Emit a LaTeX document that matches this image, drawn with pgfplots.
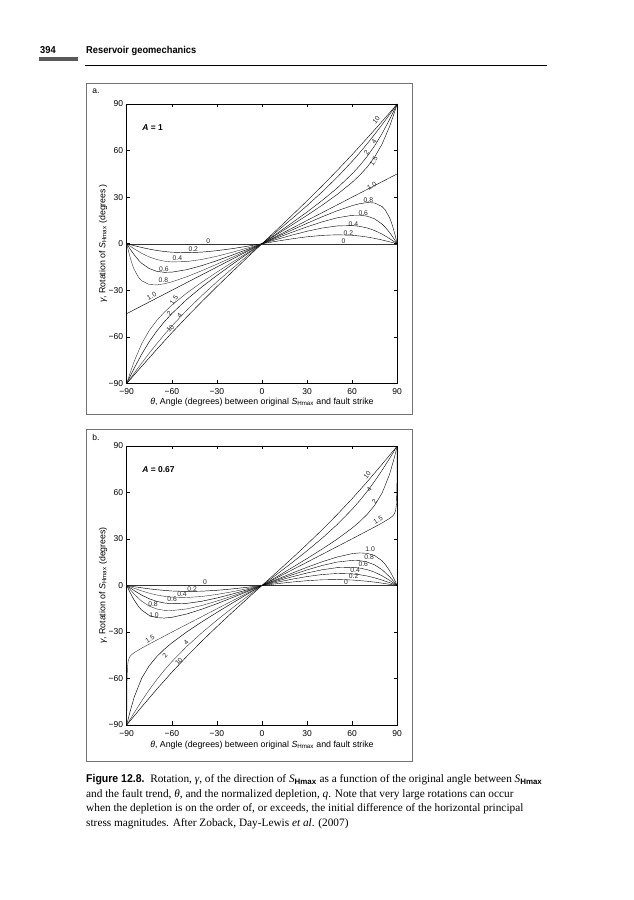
\documentclass[border=0pt]{standalone}
\usepackage{fontspec}
\setmainfont{Liberation Serif}
\setsansfont{Liberation Sans}
\newfontfamily\cond{Liberation Sans}[FakeStretch=0.93]
\usepackage{pgfplots}
\usepackage{pgfplotstable}
\pgfplotsset{compat=1.18}

\newcommand{\Sh}{\textit{S}\textsubscript{Hmax}}
\newcommand{\Sc}{\textit{S}\textsubscript{\sffamily\bfseries Hmax}}
\newcommand{\curve}[1]{%
  \addplot table[x=t,y=g]{#1};
  \addplot table[x expr=-\thisrow{t},y expr=-\thisrow{g}]{#1};}

% gamma(theta) for theta>=0, the theta<0 half is the mirror image
% panel a, A = 1
\pgfplotstableread[row sep=\\]{t g\\0 0\\10 1.65\\20 3.18\\30 4.47\\40 5.39\\50 5.77\\60 5.45\\65 4.99\\70 4.32\\75 3.45\\80 2.41\\85 1.24\\88 0.50\\90 0\\}\Aa
\pgfplotstableread[row sep=\\]{t g\\0 0\\10 2.84\\20 5.57\\30 8.05\\40 10.11\\50 11.47\\60 11.71\\65 11.21\\70 10.17\\75 8.51\\80 6.18\\85 3.27\\88 1.33\\90 0\\}\Ab
\pgfplotstableread[row sep=\\]{t g\\0 0\\10 3.74\\20 7.40\\30 10.89\\40 14.08\\50 16.70\\60 18.30\\65 18.40\\70 17.76\\75 15.99\\80 12.60\\82 10.67\\85 7.14\\87 4.42\\88 2.98\\89 1.50\\90 0\\}\Ac
\pgfplotstableread[row sep=\\]{t g\\0 0\\10 4.44\\20 8.84\\30 13.17\\40 17.34\\50 21.23\\60 24.55\\65 25.80\\70 26.51\\75 26.24\\80 23.89\\82 21.84\\85 16.60\\86 14.09\\87 11.12\\88 7.73\\89 3.96\\90 0\\}\Ad
\pgfplotstableread[row sep=\\]{t g\\0 0\\90 45\\}\Ae
\pgfplotstableread[row sep=\\]{t g\\0 0\\10 6.01\\20 12.08\\30 18.30\\40 24.77\\50 31.70\\60 39.55\\65 44.11\\70 49.39\\75 55.87\\80 64.30\\85 75.69\\88 84.05\\90 90\\}\Af
\pgfplotstableread[row sep=\\]{t g\\0 0\\10 6.68\\20 13.46\\30 20.45\\40 27.82\\50 35.83\\60 45.00\\65 50.28\\70 56.24\\75 63.10\\80 71.06\\85 80.15\\88 86.01\\90 90\\}\Ag
\pgfplotstableread[row sep=\\]{t g\\0 0\\10 8.02\\20 16.16\\30 24.55\\40 33.36\\50 42.78\\60 53.05\\65 58.57\\70 64.38\\75 70.46\\80 76.81\\85 83.35\\90 90\\}\Ah
\pgfplotstableread[row sep=\\]{t g\\0 0\\10 9.10\\20 18.29\\30 27.64\\40 37.24\\50 47.14\\60 57.39\\70 68.01\\80 78.92\\85 84.45\\90 90\\}\Ai
% panel b, A = 0.67
\pgfplotstableread[row sep=\\]{t g\\0 0\\10 1.17\\20 2.23\\30 3.10\\40 3.67\\50 3.85\\60 3.54\\70 2.74\\75 2.17\\80 1.50\\85 0.77\\90 0\\}\Ba
\pgfplotstableread[row sep=\\]{t g\\0 0\\10 2.09\\20 4.07\\30 5.78\\40 7.08\\50 7.74\\60 7.50\\65 6.96\\70 6.12\\75 4.95\\80 3.49\\85 1.81\\90 0\\}\Bb
\pgfplotstableread[row sep=\\]{t g\\0 0\\10 2.85\\20 5.59\\30 8.08\\40 10.15\\50 11.53\\60 11.77\\65 11.27\\70 10.24\\75 8.57\\80 6.23\\85 3.30\\88 1.34\\90 0\\}\Bc
\pgfplotstableread[row sep=\\]{t g\\0 0\\10 3.48\\20 6.86\\30 10.05\\40 12.89\\50 15.10\\60 16.19\\65 16.03\\70 15.15\\75 13.29\\80 10.14\\85 5.57\\88 2.30\\90 0\\}\Bd
\pgfplotstableread[row sep=\\]{t g\\0 0\\10 4.00\\20 7.94\\30 11.75\\40 15.29\\50 18.37\\60 20.55\\65 21.02\\70 20.75\\75 19.30\\80 15.87\\82 13.71\\85 9.44\\86 7.75\\88 4.01\\89 2.02\\90 0\\}\Be
\pgfplotstableread[row sep=\\]{t g\\0 0\\10 5.01\\20 10.03\\30 15.04\\40 20.06\\50 25.08\\60 30.12\\70 35.20\\75 37.77\\80 40.40\\85 43.31\\87 44.86\\88 46.06\\89 48.56\\89.5 52.73\\89.8 62.68\\90 90\\}\Bf
\pgfplotstableread[row sep=\\]{t g\\0 0\\10 5.73\\20 11.51\\30 17.39\\40 23.47\\50 29.91\\60 37.06\\65 41.15\\70 45.88\\75 51.73\\80 59.75\\85 71.97\\88 82.24\\90 90\\}\Bg
\pgfplotstableread[row sep=\\]{t g\\0 0\\10 7.30\\20 14.71\\30 22.38\\40 30.48\\50 39.27\\60 49.17\\65 54.70\\70 60.71\\75 67.29\\80 74.44\\85 82.08\\90 90\\}\Bh
\pgfplotstableread[row sep=\\]{t g\\0 0\\10 8.72\\20 17.54\\30 26.57\\40 35.92\\50 45.71\\60 56.02\\70 66.91\\80 78.30\\90 90\\}\Bi

\pgfplotsset{
  gam/.style={
    width=270.5pt, height=279.5pt, scale only axis, anchor=south west,
    xmin=-90, xmax=90, ymin=-90, ymax=90,
    xtick={-90,-60,...,90}, ytick={-90,-60,...,90},
    xticklabels={−90,−60,−30,0,30,60,90},
    yticklabels={−90,−60,−30,0,30,60,90},
    tick align=inside, tick pos=both, major tick length=3.5pt,
    axis line style={line width=0.6pt},
    every tick/.style={black, line width=0.5pt},
    tick label style={font=\sffamily\fontsize{8.5}{10}\selectfont},
    label style={font=\sffamily\fontsize{8.8}{10}\selectfont},
    xticklabel style={anchor=north, inner sep=0pt, yshift=-4.5pt},
    yticklabel style={anchor=east, inner sep=0pt, xshift=-3.5pt},
    xlabel style={at={(axis description cs:0.5,-0.066)}, anchor=center},
    ylabel style={at={(axis description cs:-0.0876,0.5)}, anchor=center},
    clip mode=individual,
    cycle list={{black!80, solid, line width=0.45pt, mark=none}},
  },
}
\tikzset{lab/.style={font=\sffamily\fontsize{6.8}{8}\selectfont, inner sep=0.3pt, black!85}}

\begin{document}
\begin{tikzpicture}[x=1pt,y=1pt]
\path[use as bounding box] (0,0) rectangle (633,900);

% running head
\fill[black!65] (39,839) rectangle (78,843);
\node[anchor=base west, inner sep=0pt, font=\cond\bfseries\fontsize{10}{12}\selectfont] at (40,846.5) {394};
\node[anchor=base west, inner sep=0pt, font=\cond\bfseries\fontsize{10}{12}\selectfont] at (86,846.5) {Reservoir geomechanics};
\draw[line width=1.1pt] (85,834.5) -- (547,834.5);

% panel frames
\draw[black!55, line width=0.9pt] (86,817) rectangle (412,486);
\draw[black!55, line width=0.9pt] (86,470.7) rectangle (412,139);
\node[anchor=center, font=\sffamily\fontsize{8.5}{10}\selectfont] at (96,808.5) {a.};
\node[anchor=center, font=\sffamily\fontsize{8.5}{10}\selectfont] at (96,462.5) {b.};

\begin{axis}[gam, at={(126.7pt,516.5pt)},
  xlabel={\textit{θ}, Angle (degrees) between original \Sh\ and fault strike},
  ylabel={\textit{γ}, Rotation of \Sh\ (degrees\,)}]
\addplot coordinates {(-90,0) (90,0)};
\curve{\Aa}\curve{\Ab}\curve{\Ac}\curve{\Ad}\curve{\Ae}
\curve{\Af}\curve{\Ag}\curve{\Ah}\curve{\Ai}
\node[anchor=west, font=\sffamily\bfseries\fontsize{8.5}{10}\selectfont] at (axis cs:-82,74.5) {\textit{A} = 1};
\node[lab, rotate=50] at (axis cs:76,79.4) {10};
\node[lab, rotate=55] at (axis cs:74.6,66) {4};
\node[lab, rotate=55] at (axis cs:69.6,59) {2};
\node[lab, rotate=58] at (axis cs:74.4,53) {1.5};
\node[lab, rotate=27] at (axis cs:73,37) {1.0};
\node[lab] at (axis cs:70.8,27.8) {0.8};
\node[lab] at (axis cs:67.4,19.7) {0.6};
\node[lab] at (axis cs:60.8,12.8) {0.4};
\node[lab] at (axis cs:57.5,6.8) {0.2};
\node[lab] at (axis cs:54.2,1.8) {0};
\node[lab] at (axis cs:-35.7,1.8) {0};
\node[lab] at (axis cs:-45.7,-3.4) {0.2};
\node[lab] at (axis cs:-56.3,-9.2) {0.4};
\node[lab] at (axis cs:-65.2,-16.2) {0.6};
\node[lab] at (axis cs:-65.6,-23.6) {0.8};
\node[lab, rotate=27] at (axis cs:-73.4,-33.8) {1.0};
\node[lab, rotate=55] at (axis cs:-58.5,-36.5) {1.5};
\node[lab, rotate=52] at (axis cs:-61.6,-44.8) {2};
\node[lab, rotate=50] at (axis cs:-54.8,-46.2) {4};
\node[lab, rotate=48] at (axis cs:-61,-54.6) {10};
\end{axis}

\begin{axis}[gam, at={(126.7pt,175pt)}, height=279pt,
  xlabel style={at={(axis description cs:0.5,-0.072)}},
  xticklabel style={yshift=-1pt},
  xlabel={\textit{θ}, Angle (degrees) between original \Sh\ and fault strike},
  ylabel={\textit{γ}, Rotation of \Sh\ (degrees)}]
\addplot coordinates {(-90,0) (90,0)};
\curve{\Ba}\curve{\Bb}\curve{\Bc}\curve{\Bd}\curve{\Be}
\curve{\Bf}\curve{\Bg}\curve{\Bh}\curve{\Bi}
\node[anchor=west, font=\sffamily\bfseries\fontsize{8.5}{10}\selectfont] at (axis cs:-82,74.5) {\textit{A} = 0.67};
\node[lab, rotate=50] at (axis cs:70,71.2) {10};
\node[lab, rotate=52] at (axis cs:71.3,62) {4};
\node[lab, rotate=55] at (axis cs:74.9,54) {2};
\node[lab, rotate=30] at (axis cs:77.3,42) {1.5};
\node[lab] at (axis cs:72,23.5) {1.0};
\node[lab] at (axis cs:71.3,18) {0.8};
\node[lab] at (axis cs:67.4,13.5) {0.6};
\node[lab] at (axis cs:62,9.6) {0.4};
\node[lab] at (axis cs:61,5.8) {0.2};
\node[lab] at (axis cs:56,2) {0};
\node[lab] at (axis cs:-37.9,2.2) {0};
\node[lab] at (axis cs:-46.5,-2.2) {0.2};
\node[lab] at (axis cs:-53.2,-5.8) {0.4};
\node[lab] at (axis cs:-59.8,-8.6) {0.6};
\node[lab] at (axis cs:-72.5,-11.8) {0.8};
\node[lab] at (axis cs:-71.8,-19) {1.0};
\node[lab, rotate=30] at (axis cs:-74.5,-34.5) {1.5};
\node[lab, rotate=52] at (axis cs:-64.6,-45.2) {2};
\node[lab, rotate=48] at (axis cs:-50.5,-37) {4};
\node[lab, rotate=48] at (axis cs:-55.2,-49) {10};
\end{axis}

% caption, one node per line
\begin{scope}[every node/.style={anchor=base west, inner sep=0pt, font=\fontsize{11.3}{13}\selectfont}]
\node at (86,117) {{\cond\bfseries Figure 12.8.}\enspace Rotation, \textit{γ}, of the direction of \Sc\ as a function of the original angle between \Sc};
\node at (86,102.6) {and the fault trend, \textit{θ}, and the normalized depletion, \textit{q}. Note that very large rotations can occur};
\node at (86,88.2) {when the depletion is on the order of, or exceeds, the initial difference of the horizontal principal};
\node at (86,73.8) {stress magnitudes. After Zoback, Day-Lewis \textit{et al}. (2007)};
\end{scope}
\end{tikzpicture}
\end{document}
